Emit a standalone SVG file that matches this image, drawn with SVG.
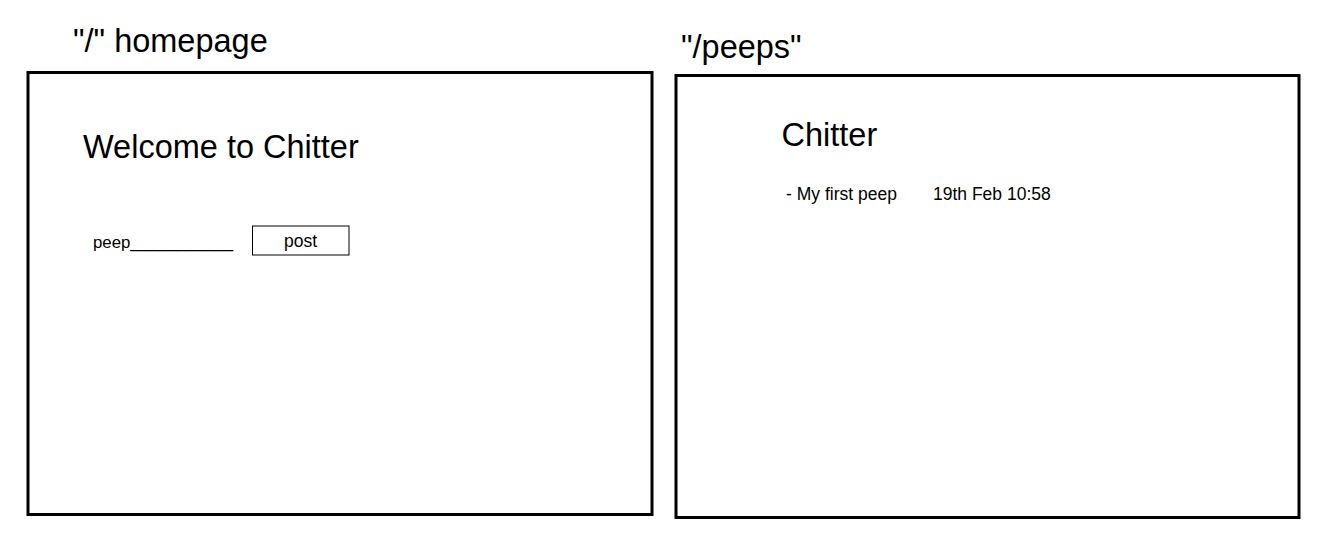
<svg xmlns="http://www.w3.org/2000/svg" width="1317" height="534" viewBox="0 0 1317 534">
<style>
.frame{fill:#fff;stroke:#000;stroke-width:3}
.btn{fill:#fff;stroke:#000;stroke-width:1}
text{font-family:"Liberation Sans",Arial,sans-serif;fill:#000}
.big{font-size:32.5px}
.small{font-size:17.5px}
</style>
<rect width="1317" height="534" fill="#fff"/>
<g id="homepage">
<text class="big" x="73" y="52">"/" homepage</text>
<rect class="frame" x="28" y="72.5" width="624" height="442"/>
<text class="big" x="83" y="158">Welcome to Chitter</text>
<text class="small" x="93" y="248" style="font-size:16.8px">peep___________</text>
<g id="post-button">
<rect class="btn" x="252.5" y="226" width="96.5" height="29"/>
<text class="small" x="300.5" y="247" text-anchor="middle">post</text>
</g>
</g>
<g id="peeps">
<text class="big" x="681" y="58">"/peeps"</text>
<rect class="frame" x="676" y="75.5" width="623" height="442"/>
<text class="big" x="781.5" y="146">Chitter</text>
<text class="small" x="786" y="200">- My first peep</text>
<text class="small" x="933" y="200">19th Feb 10:58</text>
</g>
<g id="connectors"/>
</svg>
